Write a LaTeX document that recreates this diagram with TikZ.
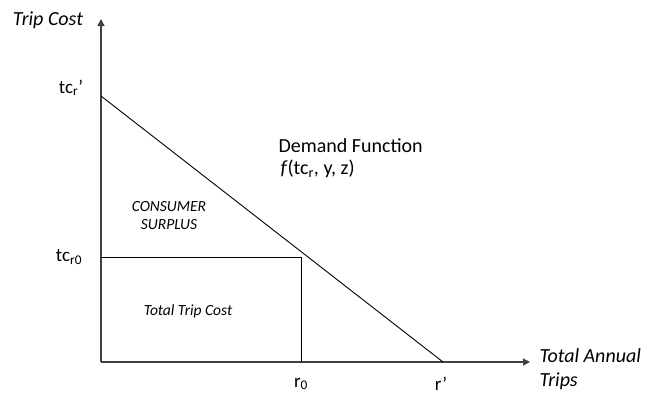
\documentclass[tikz,border=0pt]{standalone}
\usepackage{fontspec}
\setmainfont{Carlito}
\usetikzlibrary{arrows.meta, positioning}

\begin{document}
\begin{tikzpicture}[x=1pt,y=-1pt,
    axis/.style={draw=black!75, line width=1.3pt, -{Triangle[length=7pt,width=7pt]}},
    curve/.style={draw=black, line width=0.9pt},
    axlbl/.style={font=\itshape\fontsize{20}{24}\selectfont, align=left},
    tick/.style={font=\fontsize{19}{23}\selectfont},
    arealbl/.style={font=\itshape\fontsize{15.5}{18}\selectfont, align=center}]
\useasboundingbox (0,0) rectangle (647,400);
% points of the graph
\coordinate (O) at (101,362);
\coordinate (ytop) at (101,19);
\coordinate (xend) at (530,362);
\coordinate (dtop) at (101,96);
\coordinate (rp) at (443,362);
\coordinate (tczero) at (101,257);
\coordinate (corner) at (301,257);
\coordinate (rzero) at (301,362);
% axes
\draw[axis] (O) -- (ytop);
\draw[axis] (O) -- (xend);
% demand curve and trip cost box
\draw[curve] (dtop) -- (rp);
\draw[curve] (tczero) -- (corner) -- (rzero);
% labels
\node[axlbl] (ylbl) at (48,20) {Trip Cost};
\node[axlbl, anchor=west] (xlbl) at (536,369) {Total Annual\\Trips};
\node[tick] (tcrp) at (71,88) {tc\textsubscript{r}’};
\node[tick] (tcrz) at (69,257) {tc\textsubscript{r0}};
\node[tick] (rz) at (301,384) {r\textsubscript{0}};
\node[tick] (rpl) at (441,384) {r’};
\node[tick, font=\fontsize{20}{24}\selectfont, anchor=west] (dem) at (275,146) {Demand Function};
\node[tick, font=\fontsize{20}{24}\selectfont, anchor=west] (fun) at (277,169) {\textit{f}(tc\textsubscript{r}, y, z)};
\node[arealbl] (cs) at (169,216) {CONSUMER\\SURPLUS};
\node[arealbl] (ttc) at (188,311) {Total Trip Cost};
\end{tikzpicture}
\end{document}
